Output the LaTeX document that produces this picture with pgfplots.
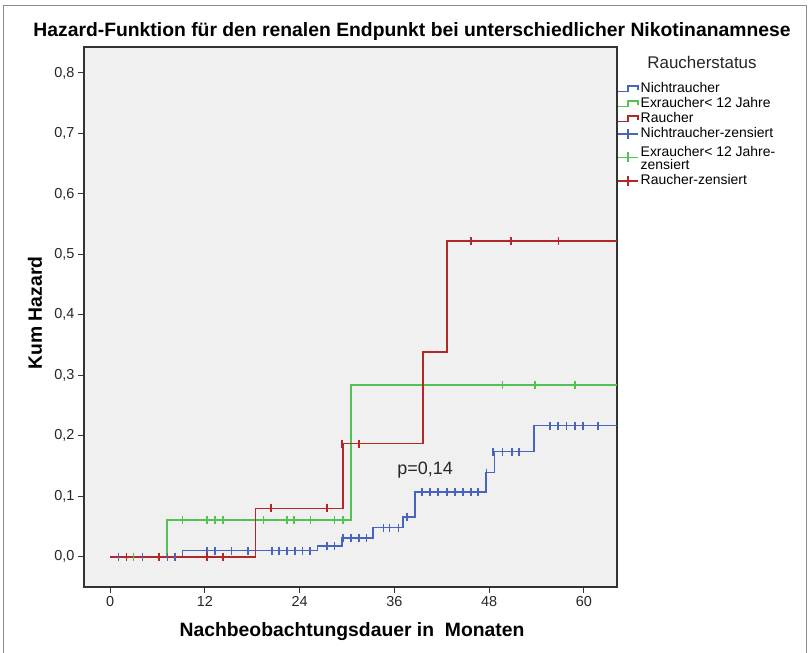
\documentclass[border=0pt]{standalone}
\usepackage{pgfplots}
\pgfplotsset{compat=1.18}
\usepackage{fontspec}
\setmainfont{Liberation Sans}
\definecolor{cblue}{RGB}{72,100,190}
\definecolor{cgreen}{RGB}{82,195,82}
\definecolor{cred}{RGB}{178,40,40}
\definecolor{bg}{RGB}{240,240,240}
\begin{document}
\begin{tikzpicture}[x=1bp,y=1bp]
\useasboundingbox (0,0) rectangle (809,653);
\draw[black!45, line width=0.8bp] (3,0) -- (3,648) -- (806,648) -- (806,0);
\begin{axis}[
  at={(84bp,66bp)}, anchor=south west,
  scale only axis, width=533bp, height=540bp,
  xmin=-3.3, xmax=64.2, ymin=-0.05, ymax=0.843,
  axis background/.style={fill=bg},
  axis line style={black!80, line width=1.2bp},
  xtick={0,12,24,36,48,60},
  ytick={0,0.1,0.2,0.3,0.4,0.5,0.6,0.7,0.8},
  tick align=outside, major tick length=6bp,
  xtick pos=lower, ytick pos=left,
  tick style={black!80, line width=1bp},
  /pgf/number format/assume math mode=true,
  yticklabel style={/pgf/number format/.cd, fixed, fixed zerofill, precision=1, use comma},
  ticklabel style={font=\fontsize{14.5}{16}\selectfont, text=black!85},
  legend style={at={(rel axis cs:1,0.936)}, anchor=north west, draw=none, fill=none,
    font=\fontsize{14}{14}\selectfont, inner xsep=0pt, inner ysep=0pt, row sep=0.5bp,
    nodes={text height=10.5bp, text depth=3bp, inner ysep=0.5bp}},
  legend cell align=left,
]
\addplot[const plot, color=cblue, line width=1.5bp, legend image code/.code={\draw[cblue,line width=1.5bp] (0bp,-2.5bp) -- (10bp,-2.5bp) -- (10bp,3bp) -- (20bp,3bp) -- (20bp,-1bp);}] coordinates {
(0,0) (9.2,0.010) (26.3,0.018) (29.4,0.031) (33.3,0.048) (37.1,0.066) (38.6,0.107) (47.6,0.139) (48.7,0.174) (53.7,0.217) (64.2,0.217)};
\addlegendentry{Nichtraucher}
\addplot[const plot, color=cgreen, line width=1.5bp, legend image code/.code={\draw[cgreen,line width=1.5bp] (0bp,-2.5bp) -- (10bp,-2.5bp) -- (10bp,3bp) -- (20bp,3bp) -- (20bp,-1bp);}] coordinates {
(0,0) (7.2,0.061) (30.5,0.284) (64.2,0.284)};
\addlegendentry{Exraucher< 12 Jahre}
\addplot[const plot, color=cred, line width=1.5bp, legend image code/.code={\draw[cred,line width=1.5bp] (0bp,-2.5bp) -- (10bp,-2.5bp) -- (10bp,3bp) -- (20bp,3bp) -- (20bp,-1bp);}] coordinates {
(0,0) (18.4,0.080) (29.5,0.187) (39.6,0.339) (42.7,0.522) (64.2,0.522)};
\addlegendentry{Raucher}
\addplot[only marks, mark=|, mark size=4bp, mark options={color=cblue, line width=1.5bp}, legend image code/.code={\draw[cblue,line width=1.5bp] (0bp,0bp) -- (20bp,0bp); \draw[cblue,line width=1.5bp] (10bp,-5bp) -- (10bp,5bp);}] coordinates {
(1.1,0) (4.1,0) (7.3,0) (8.2,0)
(12.3,0.010) (13.3,0.010) (15.4,0.010) (17.5,0.010) (20.5,0.010) (21.4,0.010) (22.4,0.010) (23.4,0.010) (24.4,0.010) (25.3,0.010)
(27.5,0.018) (28.4,0.018)
(29.5,0.031) (30.5,0.031) (31.5,0.031) (32.5,0.031)
(34.6,0.048) (35.4,0.048) (36.5,0.048)
(37.6,0.066)
(39.5,0.107) (40.5,0.107) (41.5,0.107) (42.7,0.107) (43.7,0.107) (44.7,0.107) (45.7,0.107) (46.6,0.107)
(47.7,0.139)
(48.5,0.174) (49.7,0.174) (50.9,0.174) (51.8,0.174)
(55.7,0.217) (56.7,0.217) (57.8,0.217) (58.9,0.217) (59.9,0.217) (61.8,0.217)};
\addlegendentry{Nichtraucher-zensiert}
\addplot[only marks, mark=|, mark size=4bp, mark options={color=cgreen, line width=1.5bp}, legend image code/.code={\draw[cgreen,line width=1.5bp] (0bp,0bp) -- (20bp,0bp); \draw[cgreen,line width=1.5bp] (10bp,-5bp) -- (10bp,5bp);}] coordinates {
(3.0,0)
(9.2,0.061) (12.3,0.061) (13.3,0.061) (14.3,0.061) (19.4,0.061) (22.4,0.061) (23.3,0.061) (25.4,0.061) (28.4,0.061) (29.5,0.061)
(49.7,0.284) (53.8,0.284) (58.9,0.284)};
\addlegendentry[text height=27.25bp, text depth=3.25bp]{\shortstack[l]{Exraucher< 12 Jahre-\\zensiert}}
\addplot[only marks, mark=|, mark size=4bp, mark options={color=cred, line width=1.5bp}, legend image code/.code={\draw[cred,line width=1.5bp] (0bp,0bp) -- (20bp,0bp); \draw[cred,line width=1.5bp] (10bp,-5bp) -- (10bp,5bp);}] coordinates {
(2.1,0) (6.2,0) (12.3,0) (14.3,0)
(20.4,0.080) (27.5,0.080)
(29.4,0.187) (31.5,0.187)
(45.7,0.522) (50.8,0.522) (56.8,0.522)};
\addlegendentry{Raucher-zensiert}
\node[font=\fontsize{18}{20}\selectfont, text=black!85] at (axis cs:39.9,0.144) {p=0,14};
\end{axis}
\node[font=\bfseries\fontsize{19.4}{21}\selectfont] at (412,621) {Hazard-Funktion für den renalen Endpunkt bei unterschiedlicher Nikotinanamnese};
\node[font=\fontsize{17}{19}\selectfont, text=black!85] at (702,591) {Raucherstatus};
\node[font=\bfseries\fontsize{19.4}{21}\selectfont] at (352,21) {Nachbeobachtungsdauer in\ \ Monaten};
\node[font=\bfseries\fontsize{19.4}{21}\selectfont, rotate=90] at (35,340) {Kum Hazard};
\end{tikzpicture}
\end{document}
